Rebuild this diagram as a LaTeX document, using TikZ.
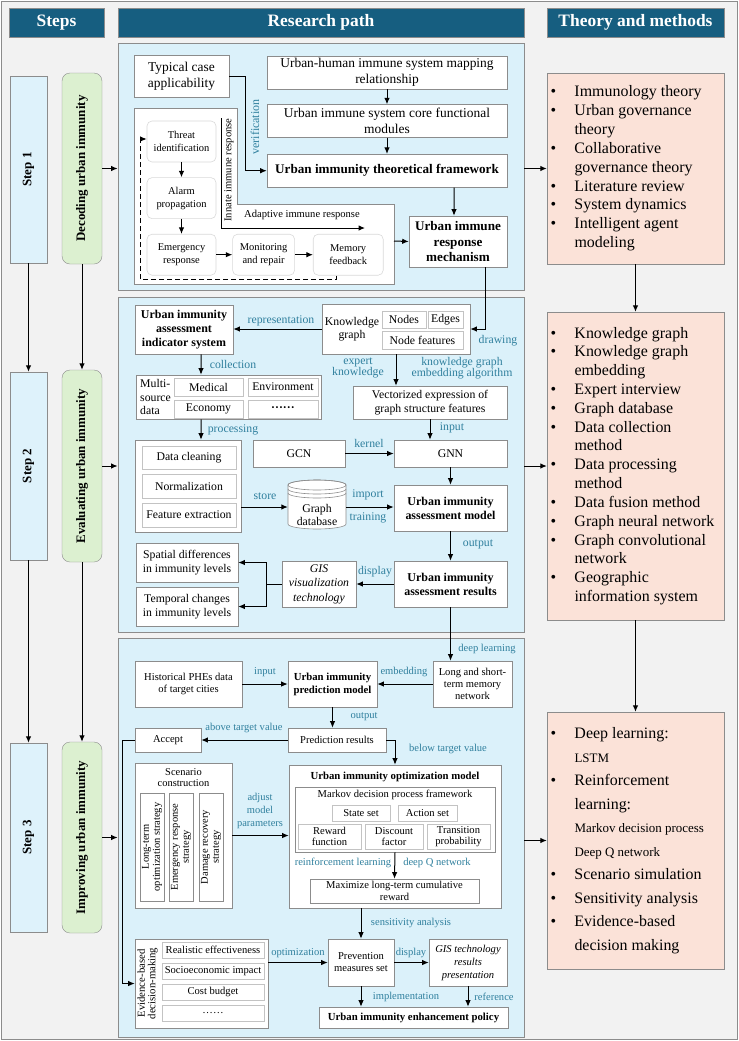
\documentclass[tikz,border=0pt]{standalone}
\usepackage{fontspec}
\setmainfont{Liberation Serif}
\usetikzlibrary{arrows.meta,positioning}

\definecolor{headblue}{RGB}{22,94,128}
\definecolor{panelblue}{RGB}{219,241,250}
\definecolor{stepblue}{RGB}{222,242,251}
\definecolor{stepgreen}{RGB}{220,240,208}
\definecolor{theorypink}{RGB}{251,226,216}
\definecolor{labelteal}{RGB}{48,128,158}
\definecolor{pagegray}{RGB}{242,242,242}
\definecolor{linegray}{RGB}{140,140,140}
\definecolor{cellgray}{RGB}{195,195,195}
\definecolor{softgray}{RGB}{218,218,218}

\newcommand\thbullet{\makebox[24bp][l]{\textbullet}}
\newcommand\thindent{\hspace*{24bp}}
\newcommand\thspacing{\spaceskip=0pt\xspaceskip=0pt}

\begin{document}
\begin{tikzpicture}
    [ x = 1bp, y = -1bp
    , wh/.style 2 args =
      { minimum width = #1bp, minimum height = #2bp }
    , box/.style =
      { draw = linegray, fill = white, align = center, inner sep = 0pt, line width = .6bp }
    , cell/.style =
      { box, draw = cellgray }
    , soft/.style =
      { draw = softgray, fill = white, rounded corners = 5bp, align = center, inner sep = 0pt, line width = .6bp }
    , head/.style =
      { draw = linegray, fill = headblue, text = white, inner sep = 0pt, font = \fontsize{17.5}{20}\selectfont\bfseries }
    , panel/.style =
      { draw = linegray, fill = panelblue, inner sep = 0pt, line width = .8bp }
    , stepbox/.style =
      { draw = linegray, fill = stepblue, rotate = 90, inner sep = 0pt, font = \fontsize{13}{15}\selectfont\bfseries }
    , stage/.style =
      { draw = linegray, fill = stepgreen, rounded corners = 8bp, rotate = 90, inner sep = 0pt, font = \fontsize{13}{15}\selectfont\bfseries }
    , theory/.style =
      { draw = linegray, fill = theorypink, inner sep = 0pt, text width = 170bp, align = left }
    , arrow/.style =
      { -{Latex[length = 6.5bp, width = 5.5bp]}, line width = 1bp }
    , feedback/.style =
      { arrow, dash pattern = on 5bp off 3bp }
    , lbl/.style =
      { text = labelteal, inner sep = 0pt, align = center }
    , fA/.style = { font = \fontsize{13.5}{16}\selectfont }
    , fAb/.style = { font = \fontsize{13.2}{15.5}\selectfont\bfseries }
    , fB/.style = { font = \fontsize{11.8}{13.5}\selectfont }
    , fBb/.style = { font = \fontsize{12}{14}\selectfont\bfseries }
    , fBi/.style = { font = \fontsize{11.8}{14.5}\selectfont\itshape }
    , fC/.style = { font = \fontsize{10.6}{12}\selectfont }
    , fCb/.style = { font = \fontsize{10.8}{13}\selectfont\bfseries }
    , fCi/.style = { font = \fontsize{10.6}{13}\selectfont\itshape }
    , fM/.style = { font = \fontsize{10.6}{10.5}\selectfont }
    , fS/.style = { font = \fontsize{10.5}{13}\selectfont }
    , fV/.style = { font = \fontsize{10.5}{11}\selectfont }
    ]
    \useasboundingbox (0,0) rectangle (739,1041);
    \draw [fill = pagegray, draw = linegray] (1.5,1.5) rectangle (737.5,1039.5);

    % column heads
    \node [head, wh={95}{29}] (hSteps) at (56.5,22.5) {Steps};
    \node [head, wh={406}{29}] (hPath) at (321,22.5) {Research path};
    \node [head, wh={177}{29}] (hTheory) at (635.5,22.5) {Theory and methods};

    % steps and stages
    \node [stepbox, wh={187}{37}] (step1) at (28.5,169.5) {Step 1};
    \node [stepbox, wh={188}{37}] (step2) at (28.5,466) {Step 2};
    \node [stepbox, wh={189}{37}] (step3) at (28.5,837.5) {Step 3};
    \node [stage, wh={191}{40}] (stage1) at (82,168.5) {Decoding urban immunity};
    \node [stage, wh={192}{40}] (stage2) at (82,466) {Evaluating urban immunity};
    \node [stage, wh={191}{40}] (stage3) at (82,837.5) {Improving urban immunity};

    \draw [arrow] (step1.west) -- (step2.east);
    \draw [arrow] (step2.west) -- (step3.east);
    \draw [arrow] (stage1.west) -- (stage2.east);
    \draw [arrow] (stage2.west) -- (stage3.east);

    % panels
    \node [panel, wh={406}{247}] (panel1) at (321,166.5) {};
    \node [panel, wh={406}{335}] (panel2) at (321,464.5) {};
    \node [panel, wh={406}{399}] (panel3) at (321,837.5) {};

    \draw [arrow] (stage1.south) -- (stage1.south -| panel1.west);
    \draw [arrow] (stage2.south) -- (stage2.south -| panel2.west);
    \draw [arrow] (stage3.south) -- (stage3.south -| panel3.west);

    % theory and methods
    \node [theory, wh={177}{191}, font=\fontsize{16}{18.9}\selectfont] (theory1) at (635.5,168.5)
      {\thspacing
       \thbullet Immunology theory\\
       \thbullet Urban governance\\
       \thindent theory\\
       \thbullet Collaborative\\
       \thindent governance theory\\
       \thbullet Literature review\\
       \thbullet System dynamics\\
       \thbullet Intelligent agent\\
       \thindent modeling};
    \node [theory, wh={177}{308}, font=\fontsize{16}{18.9}\selectfont] (theory2) at (635.5,466)
      {\thspacing
       \thbullet Knowledge graph\\
       \thbullet Knowledge graph\\
       \thindent embedding\\
       \thbullet Expert interview\\
       \thbullet Graph database\\
       \thbullet Data collection\\
       \thindent method\\
       \thbullet Data processing\\
       \thindent method\\
       \thbullet Data fusion method\\
       \thbullet Graph neural network\\
       \thbullet Graph convolutional\\
       \thindent network\\
       \thbullet Geographic\\
       \thindent information system};
    \node [theory, wh={177}{257}, font=\fontsize{16}{23.6}\selectfont] (theory3) at (635.5,840.5)
      {\thspacing
       \thbullet Deep learning:\\
       \thindent{\fontsize{13}{23.6}\selectfont LSTM}\\
       \thbullet Reinforcement\\
       \thindent learning:\\
       \thindent{\fontsize{13}{23.6}\selectfont Markov decision process}\\
       \thindent{\fontsize{13}{23.6}\selectfont Deep Q network}\\
       \thbullet Scenario simulation\\
       \thbullet Sensitivity analysis\\
       \thbullet Evidence-based\\
       \thindent decision making};

    \draw [arrow] (panel1.east |- theory1.west) -- (theory1.west);
    \draw [arrow] (panel2.east |- theory2.west) -- (theory2.west);
    \draw [arrow] (panel3.east |- theory3.west) -- (theory3.west);
    \draw [arrow] (theory1) -- (theory2);
    \draw [arrow] (theory2) -- (theory3);

    % step 1: decoding
    \node [box, fA, wh={95}{42}] (typical) at (181.5,76) {Typical case\\applicability};
    \node [box, fA, wh={240}{33}] (mapping) at (387,72.5) {Urban-human immune system mapping\\relationship};
    \node [box, fA, wh={240}{33}] (core) [below=15bp of mapping] {Urban immune system core functional\\modules};
    \node [box, fAb, wh={240}{33}] (framework) [below=16bp of core] {Urban immunity theoretical framework};
    \node [box, fAb, wh={98}{51}] (mechanism) at (458,241.5) {Urban immune\\response\\mechanism};

    \draw [fill = white, draw = linegray, line width = .6bp]
      (134,108) -- (237,108) -- (237,204) -- (394,204) -- (394,284) -- (134,284) -- cycle;
    \coordinate (immuneR) at (394,241);
    \coordinate (innateTop) at (221,118);
    \coordinate (adaptEnd) at (365,228);

    \node [soft, fS, wh={69}{41}] (threat) at (181.5,141.5) {Threat\\identification};
    \node [soft, fS, wh={69}{41}] (alarm) [below=15bp of threat] {Alarm\\propagation};
    \node [soft, fS, wh={69}{41}] (emergency) [below=15bp of alarm] {Emergency\\response};
    \node [soft, fS, wh={62}{41}] (monitoring) [right=16bp of emergency] {Monitoring\\and repair};
    \node [soft, fS, wh={70}{41}] (memory) [right=18bp of monitoring] {Memory\\feedback};

    \draw [arrow] (threat) -- (alarm);
    \draw [arrow] (alarm) -- (emergency);
    \draw [arrow] (emergency) -- (monitoring);
    \draw [arrow] (monitoring) -- (memory);
    \draw [feedback] ([xshift=-12bp]memory.south) -- ++(0,4)
      -| ([xshift=-6bp,yshift=2.5bp]threat.west) -- ([yshift=2.5bp]threat.west);
    \draw [arrow] (innateTop) |- (adaptEnd);
    \node [fC, rotate=90, inner sep=0pt] (innateLbl) at (229,170) {Innate immune response};
    \node [fC, inner sep=0pt] (adaptLbl) at (302,215) {Adaptive immune response};

    \draw [arrow] (typical.east) -- ++(16,0) |- (framework.west);
    \node [lbl, font=\fontsize{12}{14}\selectfont, rotate=90] (verifLbl) at (255,127) {verification};
    \draw [arrow] (mapping) -- (core);
    \draw [arrow] (core) -- (framework);
    \draw [arrow] ([xshift=67bp]framework.south) -- ([xshift=-4bp]mechanism.north);
    \draw [arrow] (immuneR) -- (mechanism.west);

    % step 2: evaluating
    \node [box, fBb, wh={98}{49}] (indicator) at (184,329.5) {Urban immunity\\assessment\\indicator system};
    \node [box, wh={148}{50}] (kg) at (396,329) {};
    \node [fB, align=center, inner sep=0pt] (kgText) at (352,329) {Knowledge\\graph};
    \node [cell, fB, wh={44}{17}] (kgNodes) at (404,319.5) {Nodes};
    \node [cell, fB, wh={35}{17}] (kgEdges) at (445.5,319.5) {Edges};
    \node [cell, fB, wh={81}{18}] (kgFeat) at (422.5,340) {Node features};

    \draw [arrow] ([xshift=27bp]mechanism.south) |- (kg.east);
    \node [lbl, fB] (drawLbl) at (498,341) {drawing};
    \draw [arrow] (kg.west) -- (kg.west -| indicator.east);
    \node [lbl, fB] (reprLbl) at (281,321) {representation};

    \node [box, wh={185}{44}] (multi) at (228.5,397) {};
    \node [fB, align=left, anchor=west, inner sep=0pt] (multiText) at (140,397) {Multi-\\source\\data};
    \node [cell, fB, wh={69}{18}] (medical) at (208.5,387) {Medical};
    \node [cell, fB, wh={70}{18}] (environment) at (283,387) {Environment};
    \node [cell, fB, wh={69}{18}] (economy) at (208.5,409) {Economy};
    \node [cell, fB, wh={70}{18}] (moreData) at (283,409) {\textbf{······}};
    \draw [arrow] ([xshift=17bp]indicator.south) -- ([xshift=-27.5bp]multi.north);
    \node [lbl, fB] (collLbl) at (233,364) {collection};

    \node [box, fB, wh={154}{33}] (vector) at (430,402.5) {Vectorized expression of\\graph structure features};
    \draw [arrow] (kg.south) -- (kg.south |- vector.north);
    \node [lbl, font=\fontsize{11.8}{11.6}\selectfont] (expertLbl) at (358,368) {expert\\knowledge};
    \node [lbl, font=\fontsize{11.8}{11.6}\selectfont] (embedLbl) at (462,368) {knowledge graph\\embedding algorithm};

    \node [box, wh={106}{92}] (proc) at (188,486) {};
    \node [cell, fB, wh={94}{23}] (cleaning) at (189,457.5) {Data cleaning};
    \node [cell, fB, wh={94}{24}] (normal) at (189,486) {Normalization};
    \node [cell, fB, wh={94}{24}] (featExt) at (189,515) {Feature extraction};
    \draw [arrow] ([xshift=-27.5bp]multi.south) -- ([xshift=13bp]proc.north);
    \node [lbl, fB] (procLbl) at (233,430) {processing};

    \node [box, fB, wh={92}{27}] (gcn) at (299,453.5) {GCN};
    \node [box, fB, wh={113}{27}] (gnn) at (450.5,453.5) {GNN};
    \draw [arrow] (vector.south) -- (vector.south |- gnn.north);
    \node [lbl, fB] (inputLbl) at (452,428) {input};
    \draw [arrow] (gcn) -- (gnn);
    \node [lbl, fB] (kernelLbl) at (369,443) {kernel};

    \begin{scope}[shift={(317,505)}, y=1bp]
      \filldraw [fill = white, draw = linegray, line width = .6bp]
        (-29,20) -- (-29,-19) arc [start angle=180, end angle=360, x radius=29, y radius=5]
        -- (29,20) arc [start angle=0, end angle=180, x radius=29, y radius=5] -- cycle;
      \draw [linegray, line width = .6bp] (0,20) ellipse [x radius=29, y radius=5];
      \foreach \dy in {16,12}
        \draw [linegray, line width = .6bp] (-29,\dy) arc [start angle=180, end angle=360, x radius=29, y radius=5];
    \end{scope}
    \node [wh={58}{50}, inner sep=0pt] (db) at (317,507) {};
    \node [fB, align=center, inner sep=0pt, font=\fontsize{11.8}{12.5}\selectfont] (dbText) at (317,515) {Graph\\database};

    \node [box, fBb, wh={113}{46}] (model) at (450.5,508) {Urban immunity\\assessment model};
    \draw [arrow] (proc.east |- db.west) -- (db.west);
    \node [lbl, fB] (storeLbl) at (265,496) {store};
    \draw [arrow] (db.east) -- (db.east -| model.west);
    \node [lbl, fB] (importLbl) at (368,495) {import};
    \node [lbl, fB] (trainLbl) at (368,518) {training};
    \draw [arrow] (gnn) -- (model);

    \node [box, fBb, wh={113}{46}] (results) at (450.5,584) {Urban immunity\\assessment results};
    \draw [arrow] (model) -- (results);
    \node [lbl, fB] (outLbl) at (478,544) {output};
    \node [box, fBi, wh={74}{46}] (gis) at (319,584) {GIS\\visualization\\technology};
    \draw [arrow] (results) -- (gis);
    \node [lbl, fB] (dispLbl) at (375,572) {display};
    \node [box, fB, wh={102}{39}] (spatial) at (187,562.5) {Spatial differences\\in immunity levels};
    \node [box, fB, wh={102}{39}] (temporal) at (187,606.5) {Temporal changes\\in immunity levels};
    \draw [arrow] (gis.west) -- ++(-15,0) |- (spatial.east);
    \draw [arrow] (gis.west) -- ++(-15,0) |- (temporal.east);

    % step 3: improving
    \node [box, fC, wh={107}{46}] (history) at (188.5,684) {Historical PHEs data\\of target cities};
    \node [box, fCb, wh={89}{46}] (predict) at (332.5,684) {Urban immunity\\prediction model};
    \node [box, fC, wh={79}{46}] (lstm) at (472.5,684) {Long and short-\\term memory\\network};
    \draw [arrow] (results.south) -- (results.south |- lstm.north);
    \node [lbl, fC] (dlLbl) at (487,649) {deep learning};
    \draw [arrow] (history) -- (predict);
    \node [lbl, fC] (in2Lbl) at (265,672) {input};
    \draw [arrow] (lstm) -- (predict);
    \node [lbl, fC] (embLbl) at (404,672) {embedding};

    \node [box, fC, wh={98}{24}] (presult) at (337,740) {Prediction results};
    \node [box, fC, wh={66}{24}] (accept) at (168,740) {Accept};
    \draw [arrow] (predict.south) -- (predict.south |- presult.north);
    \node [lbl, fC] (out2Lbl) at (364,717) {output};
    \draw [arrow] (presult) -- (accept);
    \node [lbl, fC] (aboveLbl) at (244,728) {above target value};

    \node [box, wh={212}{143}] (optim) at (395,836.5) {};
    \node [fCb, inner sep=0pt] (optimTitle) at (395,777) {Urban immunity optimization model};
    \draw [arrow] (presult.east) -| (optim.north);
    \node [lbl, fC] (belowLbl) at (448,749) {below target value};

    \node [box, wh={200}{65}] (markov) at (395,819.5) {};
    \node [fC, inner sep=0pt] (markovTitle) at (395,795) {Markov decision process framework};
    \node [cell, fM, wh={58}{16}] (stateSet) at (361,813) {State set};
    \node [cell, fM, wh={59}{16}] (actionSet) at (427.5,813) {Action set};
    \node [cell, fM, wh={63}{25}] (reward) at (329.5,836.5) {Reward\\function};
    \node [cell, fM, wh={58}{25}] (discount) at (394,836.5) {Discount\\factor};
    \node [cell, fM, wh={63}{25}] (transition) at (458.5,836.5) {Transition\\probability};
    \node [box, fC, wh={169}{24}, font=\fontsize{10.6}{11.5}\selectfont] (maximize) at (394.5,891) {Maximize long-term cumulative\\reward};
    \draw [arrow] (markov.south) -- (maximize.north);
    \node [lbl, fC] (rlLbl) at (343,863) {reinforcement learning};
    \node [lbl, fC] (dqnLbl) at (437,863) {deep Q network};

    \node [box, wh={97}{145}] (scenario) at (183.5,835.5) {};
    \node [fV, align=center, inner sep=0pt] (scenTitle) at (183.5,778) {Scenario\\construction};
    \node [box, fV, rotate=90, wh={108}{24}] (longTerm) at (152,847) {Long-term\\optimization strategy};
    \node [box, fV, rotate=90, wh={108}{24}] (emergStrat) at (181,847) {Emergency response\\strategy};
    \node [box, fV, rotate=90, wh={108}{24}] (damage) at (211,847) {Damage recovery\\strategy};
    \draw [arrow] (scenario.east) -- (scenario.east -| optim.west);
    \node [lbl, font=\fontsize{10.5}{13}\selectfont] (adjustLbl) at (260,811) {adjust\\model\\parameters};

    \node [box, fC, wh={66}{47}] (prevention) at (361,962.5) {Prevention\\measures set};
    \node [box, fCi, wh={78}{47}] (gisResult) at (468,962.5) {GIS technology\\results\\presentation};
    \node [box, fCb, wh={189}{21}] (policy) at (413.5,1017.5) {Urban immunity enhancement policy};
    \draw [arrow] (optim.south -| prevention.north) -- (prevention.north);
    \node [lbl, fC] (sensLbl) at (411,923) {sensitivity analysis};
    \draw [arrow] (prevention) -- (gisResult);
    \node [lbl, fC] (disp2Lbl) at (411,953) {display};
    \draw [arrow] (prevention.south) -- (prevention.south |- policy.north);
    \node [lbl, fC] (implLbl) at (406,997) {implementation};
    \draw [arrow] (gisResult.south) -- (gisResult.south |- policy.north);
    \node [lbl, fC] (refLbl) at (494,997) {reference};

    \node [box, wh={133}{89}] (evidence) at (201.5,983.5) {};
    \node [align=center, inner sep=0pt, rotate=90, font=\fontsize{10.8}{10.5}\selectfont] (evidTitle) at (147.5,983.5) {Evidence-based\\decision-making};
    \node [cell, fC, wh={102}{16}] (realistic) at (213,950) {Realistic effectiveness};
    \node [cell, fC, wh={102}{16}] (socio) at (213,971) {Socioeconomic impact};
    \node [cell, fC, wh={102}{16}] (cost) at (213,992) {Cost budget};
    \node [cell, fC, wh={102}{16}] (moreCrit) at (213,1013) {……};
    \draw [arrow] (evidence.east |- prevention.west) -- (prevention.west);
    \node [lbl, fC] (optLbl) at (298,953) {optimization};
    \draw [arrow] (accept.west) -- ++(-12,0) |- (evidence.west);
\end{tikzpicture}
\end{document}
